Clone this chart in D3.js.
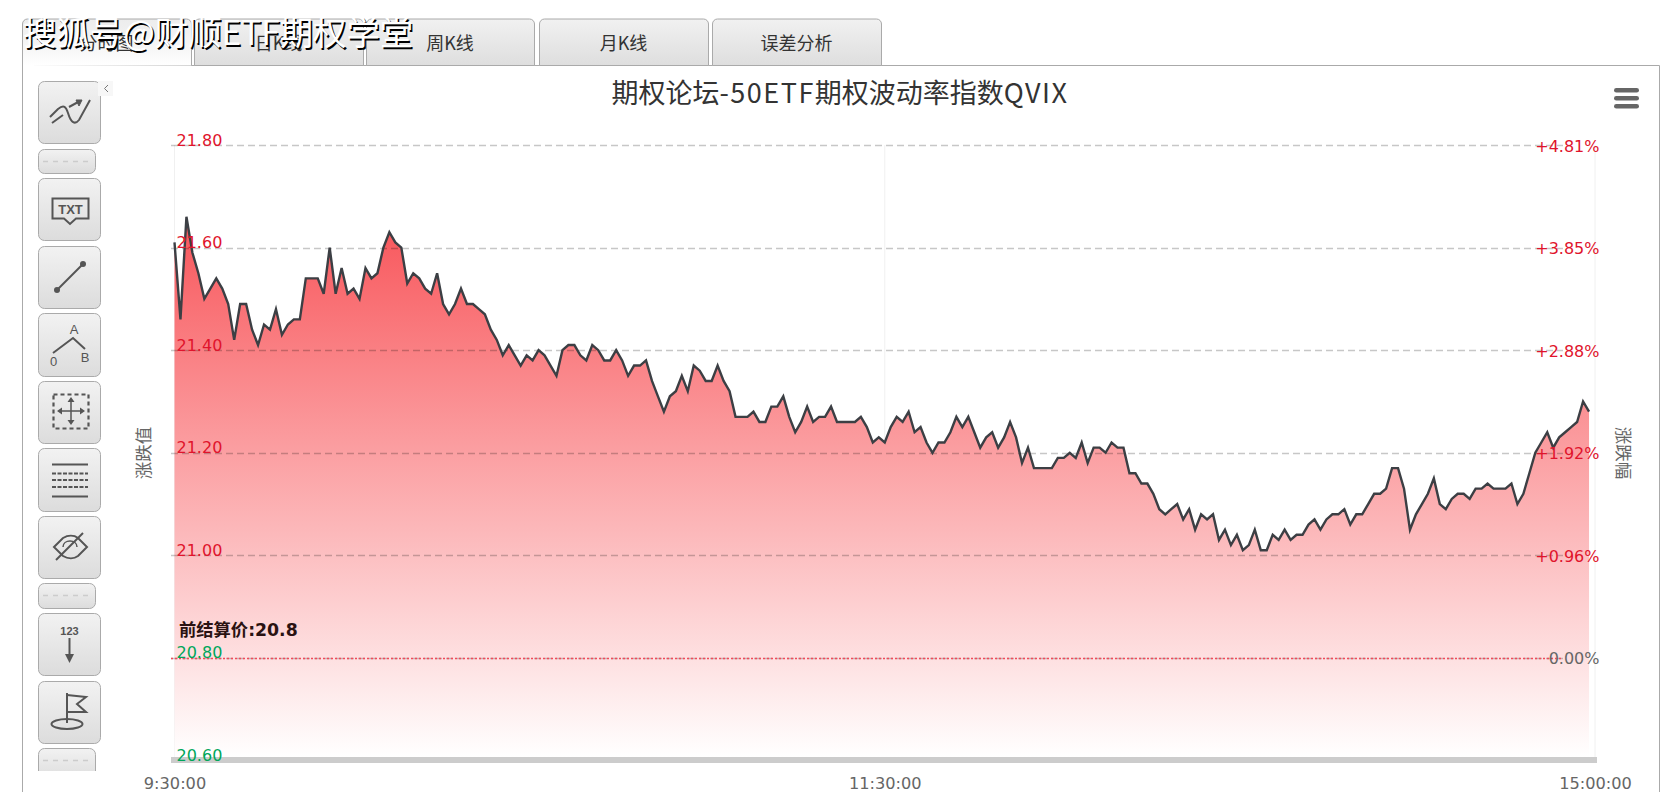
<!DOCTYPE html>
<html><head><meta charset="utf-8">
<script src="https://cdn.jsdelivr.net/npm/d3@7/dist/d3.min.js"></script>
<style>html,body{margin:0;padding:0;background:#fff;overflow:hidden}svg{display:block}</style>
</head><body><div id="c"></div>
<script>
const titleText = "期权论坛-50ETF期权波动率指数QVIX";
const watermark = "搜狐号@财顺ETF期权学堂";
const tabNames = ["分时图","日K线","周K线","月K线","误差分析"];
const prevSettle = 20.8;
const settleLabel = "前结算价:20.8";
const leftName = "涨跌值", rightName = "涨跌幅";
const yTicks = [20.6,20.8,21.0,21.2,21.4,21.6,21.8];
const pctLabels = ["","0.00%","+0.96%","+1.92%","+2.88%","+3.85%","+4.81%"];
const xTicks = [0,119,238];
const xLabels = ["9:30:00","11:30:00","15:00:00"];
const qvix = [
21.61,21.46,21.66,21.59,21.55,21.50,21.52,21.54,21.52,21.49,
21.42,21.49,21.49,21.44,21.41,21.45,21.44,21.48,21.43,21.45,
21.46,21.46,21.54,21.54,21.54,21.51,21.60,21.51,21.56,21.51,
21.52,21.50,21.56,21.54,21.55,21.60,21.63,21.61,21.60,21.53,
21.55,21.54,21.52,21.51,21.55,21.49,21.47,21.49,21.52,21.49,
21.49,21.48,21.47,21.44,21.42,21.39,21.41,21.39,21.37,21.39,
21.38,21.40,21.39,21.37,21.35,21.40,21.41,21.41,21.39,21.38,
21.41,21.40,21.38,21.38,21.40,21.38,21.35,21.37,21.37,21.38,
21.34,21.31,21.28,21.31,21.32,21.35,21.32,21.37,21.36,21.34,
21.34,21.37,21.34,21.32,21.27,21.27,21.27,21.28,21.26,21.26,
21.29,21.29,21.31,21.27,21.24,21.26,21.29,21.26,21.27,21.27,
21.29,21.26,21.26,21.26,21.26,21.27,21.25,21.22,21.23,21.22,
21.25,21.27,21.26,21.28,21.24,21.25,21.22,21.20,21.22,21.22,
21.24,21.27,21.25,21.27,21.24,21.21,21.23,21.24,21.21,21.23,
21.26,21.23,21.18,21.21,21.17,21.17,21.17,21.17,21.19,21.19,
21.20,21.19,21.22,21.18,21.21,21.21,21.20,21.22,21.21,21.21,
21.16,21.16,21.14,21.14,21.12,21.09,21.08,21.09,21.10,21.07,
21.09,21.05,21.08,21.07,21.08,21.03,21.05,21.02,21.04,21.01,
21.02,21.05,21.01,21.01,21.04,21.03,21.05,21.03,21.04,21.04,
21.06,21.07,21.05,21.07,21.08,21.08,21.09,21.06,21.08,21.08,
21.10,21.12,21.12,21.13,21.17,21.17,21.13,21.05,21.08,21.10,
21.12,21.15,21.10,21.09,21.11,21.12,21.12,21.11,21.13,21.13,
21.14,21.13,21.13,21.13,21.14,21.10,21.12,21.16,21.20,21.22,
21.24,21.21,21.23,21.24,21.25,21.26,21.30,21.28];

const W=1663,H=792;
const svg=d3.select("#c").append("svg").attr("width",W).attr("height",H);
const defs=svg.append("defs");
const CJK="'Noto Sans CJK SC','Noto Sans',sans-serif";
const NUM="'DejaVu Sans',"+CJK;

function grad(id,stops){const g=defs.append("linearGradient").attr("id",id).attr("x1",0).attr("x2",0).attr("y1",0).attr("y2",1);
 stops.forEach(s=>g.append("stop").attr("offset",s[0]).attr("stop-color",s[1]));}
grad("btn",[[0,"#f2f2f2"],[1,"#dcdcdc"]]);
grad("tab",[[0,"#f1f1f1"],[1,"#dedede"]]);
grad("tabOn",[[0,"#ececec"],[0.7,"#f8f8f8"],[1,"#ffffff"]]);

// scales
const x=d3.scaleLinear().domain([0,238]).range([174.5,1595]);
const y=d3.scaleLinear().domain([20.6,21.8]).range([760.5,145]);
const bottom=757;

// frame + tabs
svg.append("path").attr("d","M22.5,792V65.5H1659.5V792").attr("fill","none").attr("stroke","#aaa");
const tabs=[[22,191],[194,363],[366,534],[539,708],[712,881]];
tabs.forEach((t,i)=>{
 const a=t[0]+.5,b=t[1]+.5;
 svg.append("path").attr("d",`M${a},${i?65.5:66}V24a5,5 0 0 1 5,-5H${b-5}a5,5 0 0 1 5,5V65.5${i?"Z":""}`)
  .attr("fill",i?"url(#tab)":"url(#tabOn)").attr("stroke","#aaa");
 svg.append("text").attr("x",(a+b)/2-0.5).attr("y",50).attr("text-anchor","middle")
  .attr("font-family",CJK).attr("font-size",18).attr("fill","#333").text(tabNames[i]);
});

// area gradient
const ag=defs.append("linearGradient").attr("id","area").attr("gradientUnits","userSpaceOnUse")
 .attr("x1",0).attr("x2",0).attr("y1",y(d3.max(qvix))).attr("y2",bottom);
ag.append("stop").attr("offset",0).attr("stop-color","#f8555a");
ag.append("stop").attr("offset",1).attr("stop-color","#ffffff");

// vertical grid
svg.append("g").selectAll("line").data(xTicks).join("line")
 .attr("x1",d=>x(d)).attr("x2",d=>x(d)).attr("y1",145).attr("y2",bottom).attr("stroke","#f0f0f0");

// area
svg.append("path").datum(qvix).attr("fill","url(#area)")
 .attr("d",d3.area().x((d,i)=>x(i)).y0(bottom).y1(d=>y(d)));

// horizontal grid
svg.append("g").selectAll("line").data(yTicks.filter(v=>v>20.6)).join("line")
 .attr("x1",171).attr("x2",1563).attr("y1",d=>Math.round(y(d))+.5).attr("y2",d=>Math.round(y(d))+.5)
 .attr("stroke","rgba(0,0,0,.22)").attr("stroke-width",1.5).attr("stroke-dasharray","7,4");
svg.append("line").attr("x1",171).attr("x2",1563).attr("y1",Math.round(y(prevSettle))+.5).attr("y2",Math.round(y(prevSettle))+.5)
 .attr("stroke","#f04a5a").attr("stroke-width",1.5).attr("stroke-dasharray","2,2");

// line
svg.append("path").datum(qvix).attr("fill","none").attr("stroke","#3c3f44").attr("stroke-width",2.4)
 .attr("d",d3.line().x((d,i)=>x(i)).y(d=>y(d)));

// bottom bar
svg.append("rect").attr("x",171).attr("y",757).attr("width",1426).attr("height",6).attr("fill","#cccccc");

// left value axis
const axL=svg.append("g").attr("transform","translate(176.5,0)")
 .call(d3.axisRight(y).tickValues(yTicks).tickSize(0).tickPadding(0).tickFormat(d3.format(".2f")));
axL.select(".domain").remove();
axL.selectAll("text").attr("font-family",NUM).attr("font-size",16).attr("dy",0).attr("y",0)
 .attr("fill",d=>d>prevSettle?"#e0142c":"#00a65a");
// right pct axis
const axR=svg.append("g").attr("transform","translate(1599.5,0)")
 .call(d3.axisLeft(y).tickValues(yTicks).tickSize(0).tickPadding(0).tickFormat((d,i)=>pctLabels[i]));
axR.select(".domain").remove();
axR.selectAll("text").attr("font-family",NUM).attr("font-size",16).attr("dy",0).attr("y",6)
 .attr("fill",d=>d>prevSettle?"#e0142c":"#666");
// x axis
const axX=svg.append("g").attr("transform","translate(0,763)")
 .call(d3.axisBottom(x).tickValues(xTicks).tickSize(0).tickPadding(0).tickFormat((d,i)=>xLabels[i]));
axX.select(".domain").remove();
axX.selectAll("text").attr("font-family",NUM).attr("font-size",16.2).attr("fill","#666").attr("dy",0).attr("y",26);

// axis names
svg.append("text").attr("transform","translate(150,453) rotate(-90)").attr("text-anchor","middle")
 .attr("font-family",CJK).attr("font-size",17.5).attr("fill","#666").text(leftName);
svg.append("text").attr("transform","translate(1617,453) rotate(90)").attr("text-anchor","middle")
 .attr("font-family",CJK).attr("font-size",17.5).attr("fill","#666").text(rightName);

// settle label
svg.append("text").attr("x",179).attr("y",636).attr("font-family",NUM).attr("font-size",17.3).attr("font-weight","bold")
 .attr("fill","#2a1212").text(settleLabel);

// title: latin runs are spaced wider than the CJK runs
const titleEl=svg.append("text").attr("x",840).attr("y",103).attr("text-anchor","middle").attr("font-family",CJK)
 .attr("font-size",27).attr("fill","#333");
titleText.match(/[\u4e00-\u9fff]+|[^\u4e00-\u9fff]+/g).forEach(s=>{
 titleEl.append("tspan").attr("letter-spacing",/[\u4e00-\u9fff]/.test(s)?0:1.5).text(s);
});

// menu icon
[88,96,104].forEach(v=>svg.append("rect").attr("x",1614).attr("y",v).attr("width",25).attr("height",4.6).attr("rx",2.3).attr("fill","#666"));

// toolbar
defs.append("clipPath").attr("id","tbclip").append("rect").attr("x",0).attr("y",0).attr("width",170).attr("height",771);
const tb=svg.append("g").attr("clip-path","url(#tbclip)");
const btns=[[81,143,0],[149,173,1],[178,240,0],[246,308,0],[313,376,0],[381,443,0],[448,511,0],[516,578,0],[583,608,1],[613,675,0],[681,743,0],[748,780,1]];
btns.forEach(b=>{
 const w=b[2]?57:62;
 tb.append("rect").attr("x",38.5).attr("y",b[0]+.5).attr("width",w).attr("height",b[1]-b[0]).attr("rx",6)
  .attr("fill","url(#btn)").attr("stroke","#aaa");
 if(b[2]) tb.append("line").attr("x1",43).attr("x2",92).attr("y1",b[0]+12.5).attr("y2",b[0]+12.5)
  .attr("stroke","#ccc").attr("stroke-width",1.5).attr("stroke-dasharray","5,5");
});
const ic="#555";
function P(d,sw,fill,dash){const p=tb.append("path").attr("d",d).attr("fill",fill||"none").attr("stroke",fill&&!sw?"none":ic).attr("stroke-width",sw||0);if(dash)p.attr("stroke-dasharray",dash);return p;}
function T(s,xx,yy,fs,bold){tb.append("text").attr("x",xx).attr("y",yy).attr("text-anchor","middle").attr("font-family","'Liberation Sans',sans-serif")
 .attr("font-size",fs).attr("font-weight",bold?"bold":"normal").attr("fill",ic).text(s);}
// trend
P("M50,117L58,109C64,104 66,107 68,113C71,123 75,125 79,120L90,100",2);
P("M52,123L63,115M69,107L80,101",2);
P("M76,100L82,100L79,106Z",1,ic);
// TXT
P("M52.5,198.5H88.5V218.5H76L70,224L64,218.5H52.5Z",2);
T("TXT",70.5,213.5,13,true);
// straight line
P("M57,290L83,264",2);
tb.append("circle").attr("cx",57).attr("cy",290).attr("r",3).attr("fill",ic);
tb.append("circle").attr("cx",83).attr("cy",264).attr("r",3).attr("fill",ic);
// AB
P("M53,353L73,338L85,349",2);
T("A",74,334,13);T("0",53.5,366,13);T("B",85,362,13);
// move
P("M53.5,394.5H88.5V428.5H53.5Z",2.2,null,"4,3");
P("M71,399V423M59,411H83",1.5);
P("M71,397L67.5,402H74.5Z M71,425L67.5,420H74.5Z M57,411L62,407.5V414.5Z M85,411L80,407.5V414.5Z",0,ic);
// grid
P("M52,464.5H88M52,496.5H88",2);
P("M52,473.5H88M52,480H88M52,487H88",2,null,"4,1.5");
// eye hidden
P("M54,547L63,538C68,535 74,535 78,538L87,547L78,556C74,559 68,559 63,556Z",2);
P("M63,547C63,539 77,539 77,547",1.5);
P("M56,560L83,533",2);
// 123
T("123",69.5,635,11,true);
P("M69.5,638V656",2);
P("M69.5,663L65,654H74Z",0,ic);
// flag
P("M67,693V723",2);
P("M67,695L86,697L77,704L86,712L67,712",2);
tb.append("ellipse").attr("cx",67).attr("cy",724).attr("rx",15.5).attr("ry",5).attr("fill","none").attr("stroke",ic).attr("stroke-width",2);
// collapse handle
svg.append("rect").attr("x",98).attr("y",81).attr("width",15).attr("height",15).attr("fill","#f7f7f7");
svg.append("path").attr("d","M108,85L104.5,88.5L108,92").attr("fill","none").attr("stroke","#777");

// watermark: white glyphs with a dark offset shadow
const wmFont=33.4;
svg.append("text").attr("x",24.5).attr("y",46.5).attr("font-family",CJK).attr("font-size",wmFont).attr("fill","#000").text(watermark);
svg.append("text").attr("x",23).attr("y",45).attr("font-family",CJK).attr("font-size",wmFont).attr("fill","#fff").text(watermark);
</script></body></html>
